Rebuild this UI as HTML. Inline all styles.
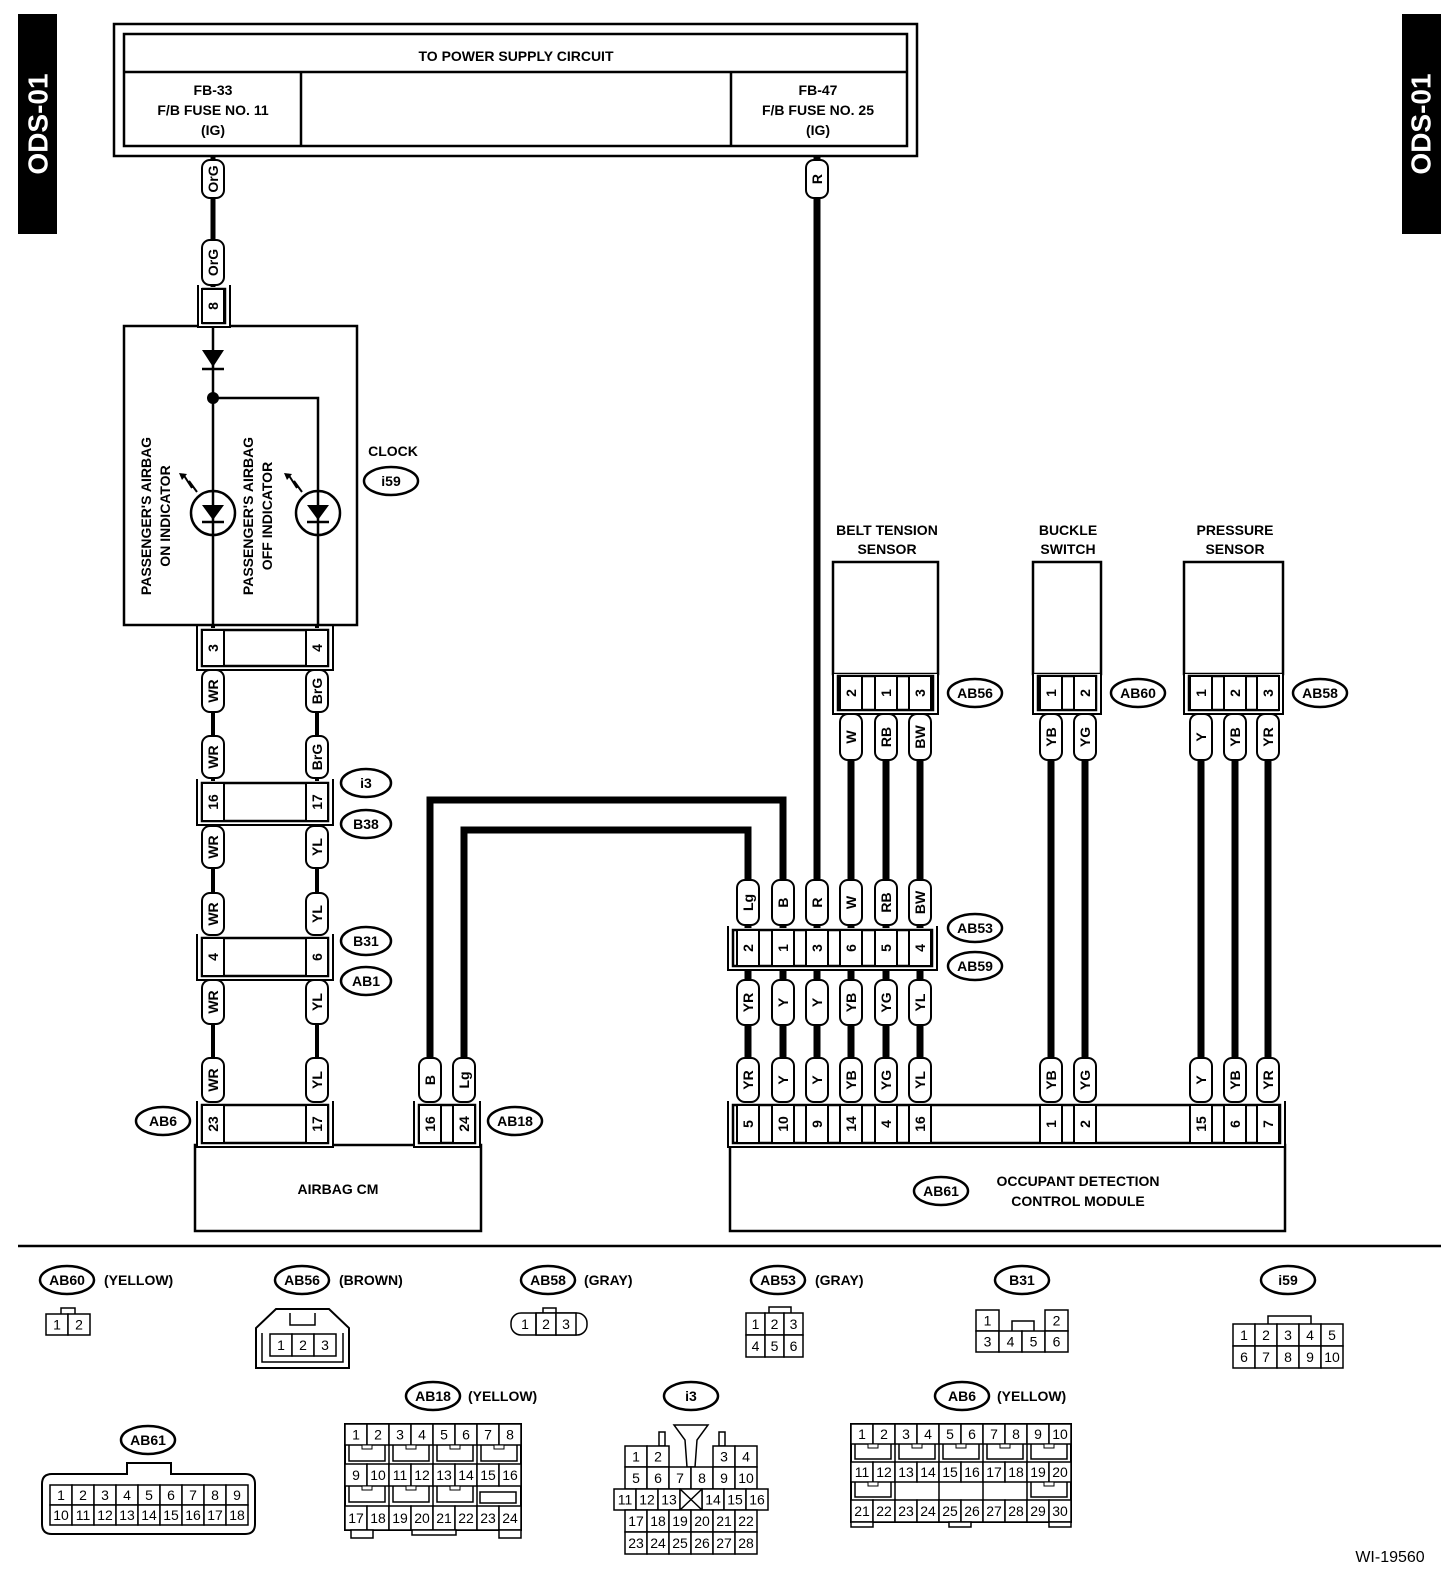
<!DOCTYPE html>
<html><head><meta charset="utf-8"><style>
html,body{margin:0;padding:0;background:#fff}
svg{display:block;font-family:"Liberation Sans",sans-serif}
</style></head><body>
<svg id="s" width="1456" height="1570" viewBox="0 0 1456 1570" xmlns="http://www.w3.org/2000/svg">
<rect x="18" y="14" width="39" height="220" fill="#000"/>
<rect x="1402" y="14" width="39" height="220" fill="#000"/>
<text transform="translate(38,124) rotate(-90)" text-anchor="middle" dominant-baseline="central" fill="#fff" font-size="28" font-weight="bold">ODS-01</text>
<text transform="translate(1421,124) rotate(-90)" text-anchor="middle" dominant-baseline="central" fill="#fff" font-size="28" font-weight="bold">ODS-01</text>
<g fill="none" stroke="#000" stroke-width="2.5">
<rect x="114" y="24" width="803" height="132"/>
<rect x="124" y="34" width="783" height="112"/>
<line x1="124" y1="72" x2="907" y2="72"/>
<line x1="301" y1="72" x2="301" y2="146"/>
<line x1="731" y1="72" x2="731" y2="146"/>
</g>
<g font-size="14" font-weight="bold" text-anchor="middle">
<text x="516" y="61">TO POWER SUPPLY CIRCUIT</text>
<text x="213" y="95">FB-33</text><text x="213" y="115">F/B FUSE NO. 11</text><text x="213" y="135">(IG)</text>
<text x="818" y="95">FB-47</text><text x="818" y="115">F/B FUSE NO. 25</text><text x="818" y="135">(IG)</text>
</g>
<g id="wires" stroke="#000" fill="none"></g>
<g id="fg"></g>
</svg>
<script>
const NS="http://www.w3.org/2000/svg";
const W=document.getElementById('wires'),F=document.getElementById('fg');
function el(p,t,a,txt){const e=document.createElementNS(NS,t);for(const k in a)e.setAttribute(k,a[k]);if(txt!==undefined)e.textContent=txt;p.appendChild(e);return e;}
function line(pts,w){el(W,'polyline',{points:pts.map(p=>p.join(',')).join(' '),'stroke-width':w,fill:'none','stroke-linejoin':'miter'});}
function rtext(x,y,t,fs){el(F,'text',{transform:`translate(${x},${y}) rotate(-90)`,'text-anchor':'middle','dominant-baseline':'central','font-size':fs||14,'font-weight':'bold'},t);}
function pill(x,y1,y2,t){el(F,'rect',{x:x-11,y:y1,width:22,height:y2-y1,rx:8,ry:8,fill:'#fff',stroke:'#000','stroke-width':2});rtext(x,(y1+y2)/2,t);}
function cell(x,y1,y2,t){el(F,'rect',{x:x-11,y:y1,width:22,height:y2-y1,fill:'#fff',stroke:'#000','stroke-width':2});rtext(x,(y1+y2)/2,t);}
function conn(x1,x2,y1,y2,cells){
 el(F,'rect',{x:x1,y:y1-2,width:x2-x1,height:y2-y1+4,fill:'#fff',stroke:'none'});
 el(F,'polyline',{points:`${x1},${y1-4} ${x1},${y2+2} ${x2},${y2+2} ${x2},${y1-4}`,fill:'none',stroke:'#000','stroke-width':2});
 el(F,'rect',{x:x1+5,y:y1,width:x2-x1-10,height:y2-y1-2,fill:'#fff',stroke:'#000','stroke-width':2.5});
 cells.forEach(c=>cell(c[0],y1,y2-2,c[1]));
}
function oval(cx,cy,t,rx){el(F,'ellipse',{cx,cy,rx:rx||27,ry:14,fill:'#fff',stroke:'#000','stroke-width':2.5});el(F,'text',{x:cx,y:cy+5,'text-anchor':'middle','font-size':14,'font-weight':'bold'},t);}
function txt(x,y,t,fs,anc){el(F,'text',{x,y,'text-anchor':anc||'start','font-size':fs||14,'font-weight':'bold'},t);}
function box(x,y,w,h,sw){el(F,'rect',{x,y,width:w,height:h,fill:'#fff',stroke:'#000','stroke-width':sw||2.5});}
function latch(x,y,w,h){el(F,'polyline',{points:`${x},${y} ${x},${y+h} ${x+w},${y+h} ${x+w},${y}`,fill:'none',stroke:'#000','stroke-width':1.5});box(x+w/2-5,y,10,4,1);}

line([[213,156],[213,326]],5);
line([[213,625],[213,1103]],4);line([[317,625],[317,1103]],4);
line([[430,1103],[430,800],[783,800],[783,928]],7);
line([[464,1103],[464,830],[748,830],[748,928]],7);
line([[817,156],[817,928]],7);
[851,886,920].forEach(x=>line([[x,712],[x,928]],7));
[748,783,817,851,886,920].forEach(x=>line([[x,968],[x,1103]],7));
[1051,1085,1201,1235,1268].forEach(x=>line([[x,712],[x,1103]],7));

box(124,326,233,299);
el(F,'line',{x1:213,y1:326,x2:213,y2:625,stroke:'#000','stroke-width':2.5});
el(F,'polyline',{points:'213,398 318,398 318,625',fill:'none',stroke:'#000','stroke-width':2.5});
el(F,'polygon',{points:'202,350 224,350 213,367',fill:'#000'});
el(F,'line',{x1:202,y1:369,x2:224,y2:369,stroke:'#000','stroke-width':2.5});
el(F,'circle',{cx:213,cy:398,r:6,fill:'#000'});
[213,318].forEach(x=>{
 el(F,'circle',{cx:x,cy:513,r:22,fill:'#fff',stroke:'#000','stroke-width':2.5});
 el(F,'line',{x1:x,y1:491,x2:x,y2:535,stroke:'#000','stroke-width':2.5});
 el(F,'polygon',{points:`${x-11},${505} ${x+11},${505} ${x},${520}`,fill:'#000'});
 el(F,'line',{x1:x-11,y1:522,x2:x+11,y2:522,stroke:'#000','stroke-width':2.5});
 el(F,'polyline',{points:`${x-16},${492} ${x-24},${481} ${x-21},${488} ${x-30},${474}`,fill:'none',stroke:'#000','stroke-width':2});
 el(F,'polygon',{points:`${x-34},${473} ${x-26},${474} ${x-31},${480}`,fill:'#000'});
});
rtext(146,516,"PASSENGER'S AIRBAG",14);rtext(165,516,"ON INDICATOR",14);
rtext(248,516,"PASSENGER'S AIRBAG",14);rtext(267,516,"OFF INDICATOR",14);
txt(393,456,"CLOCK",14,'middle');oval(391,481,"i59");

pill(213,160,198,"OrG");pill(213,240,285,"OrG");
conn(198,230,289,325,[[213,"8"]]);
conn(197,333,630,668,[[213,"3"],[317,"4"]]);
pill(213,670,712,"WR");pill(213,736,778,"WR");pill(317,670,712,"BrG");pill(317,736,778,"BrG");
conn(197,333,783,823,[[213,"16"],[317,"17"]]);oval(366,783,"i3",25);oval(366,824,"B38",25);
pill(213,826,868,"WR");pill(213,893,935,"WR");pill(317,826,868,"YL");pill(317,893,935,"YL");
conn(197,333,938,978,[[213,"4"],[317,"6"]]);oval(366,941,"B31",25);oval(366,981,"AB1",25);
pill(213,980,1024,"WR");pill(213,1058,1102,"WR");pill(317,980,1024,"YL");pill(317,1058,1102,"YL");
box(195,1145,286,86);txt(338,1194,"AIRBAG CM",14,'middle');
conn(197,333,1105,1145,[[213,"23"],[317,"17"]]);oval(163,1121,"AB6");
pill(430,1058,1102,"B");pill(464,1058,1102,"Lg");
conn(414,480,1105,1145,[[430,"16"],[464,"24"]]);oval(515,1121,"AB18");
pill(817,160,198,"R");

txt(887,535,"BELT TENSION",14,'middle');txt(887,554,"SENSOR",14,'middle');
txt(1068,535,"BUCKLE",14,'middle');txt(1068,554,"SWITCH",14,'middle');
txt(1235,535,"PRESSURE",14,'middle');txt(1235,554,"SENSOR",14,'middle');
box(833,562,105,112);box(1033,562,68,112);box(1184,562,99,112);
conn(833,938,676,712,[[851,"2"],[886,"1"],[920,"3"]]);oval(975,693,"AB56");
conn(1033,1101,676,712,[[1051,"1"],[1085,"2"]]);oval(1138,693,"AB60");
conn(1184,1283,676,712,[[1201,"1"],[1235,"2"],[1268,"3"]]);oval(1320,693,"AB58");
[[851,"W"],[886,"RB"],[920,"BW"],[1051,"YB"],[1085,"YG"],[1201,"Y"],[1235,"YB"],[1268,"YR"]].forEach(p=>pill(p[0],714,760,p[1]));
[[748,"Lg"],[783,"B"],[817,"R"],[851,"W"],[886,"RB"],[920,"BW"]].forEach(p=>pill(p[0],880,925,p[1]));
conn(728,937,930,968,[[748,"2"],[783,"1"],[817,"3"],[851,"6"],[886,"5"],[920,"4"]]);
oval(975,928,"AB53");oval(975,966,"AB59");
const low=[[748,"YR"],[783,"Y"],[817,"Y"],[851,"YB"],[886,"YG"],[920,"YL"]];
low.forEach(p=>{pill(p[0],980,1025,p[1]);pill(p[0],1058,1102,p[1]);});
[[1051,"YB"],[1085,"YG"],[1201,"Y"],[1235,"YB"],[1268,"YR"]].forEach(p=>pill(p[0],1058,1102,p[1]));
box(730,1145,555,86);
conn(728,1285,1105,1145,[[748,"5"],[783,"10"],[817,"9"],[851,"14"],[886,"4"],[920,"16"],[1051,"1"],[1085,"2"],[1201,"15"],[1235,"6"],[1268,"7"]]);
oval(941,1191,"AB61");txt(1078,1186,"OCCUPANT DETECTION",14,'middle');txt(1078,1206,"CONTROL MODULE",14,'middle');

el(F,'line',{x1:18,y1:1246,x2:1441,y2:1246,stroke:'#000','stroke-width':2.5});

function grid(x,y,cw,ch,labels){labels.forEach((row,r)=>row.forEach((t,c)=>{if(t===null)return;el(F,'rect',{x:x+c*cw,y:y+r*ch,width:cw,height:ch,fill:'#fff',stroke:'#000','stroke-width':1.5});el(F,'text',{x:x+c*cw+cw/2,y:y+r*ch+ch/2+5,'text-anchor':'middle','font-size':14},t);}));}
function rng(a,b){const r=[];for(let i=a;i<=b;i++)r.push(String(i));return r;}
oval(67,1280,"AB60");txt(104,1285,"(YELLOW)");
box(61,1308,14,7,1.5);grid(46,1314,22,21,[["1","2"]]);
oval(302,1280,"AB56");txt(339,1285,"(BROWN)");
el(F,'polygon',{points:'276,1309 329,1309 349,1328 349,1368 256,1368 256,1328',fill:'#fff',stroke:'#000','stroke-width':2});
el(F,'polyline',{points:'262,1333 262,1362 343,1362 343,1333',fill:'none',stroke:'#000','stroke-width':1.5});
el(F,'polyline',{points:'290,1313 290,1325 315,1325 315,1313',fill:'none',stroke:'#000','stroke-width':1.5});
grid(270,1334,22,22,[["1","2","3"]]);
oval(548,1280,"AB58");txt(584,1285,"(GRAY)");
el(F,'rect',{x:511,y:1313,width:76,height:22,rx:10,fill:'#fff',stroke:'#000','stroke-width':1.5});
box(543,1308,13,5,1.5);grid(536,1313,20,22,[["2","3"]]);
el(F,'text',{x:525,y:1329,'text-anchor':'middle','font-size':14},"1");
el(F,'line',{x1:536,y1:1313,x2:536,y2:1335,stroke:'#000','stroke-width':1.5});
oval(778,1280,"AB53");txt(815,1285,"(GRAY)");
box(769,1307,22,7,1.5);grid(746,1313,19,22,[["1","2","3"],["4","5","6"]]);
oval(1022,1280,"B31");
grid(976,1310,23,21,[["1",null,null,"2"],["3","4","5","6"]]);
el(F,'polyline',{points:'1012,1331 1012,1321 1034,1321 1034,1331',fill:'none',stroke:'#000','stroke-width':1.5});
oval(1288,1280,"i59");
el(F,'polyline',{points:'1268,1324 1268,1316 1311,1316 1311,1324',fill:'none',stroke:'#000','stroke-width':1.5});
grid(1233,1324,22,22,[rng(1,5),rng(6,10)]);
oval(148,1440,"AB61");
el(F,'path',{d:'M52,1474 H127 V1463 H171 V1474 H245 Q255,1474 255,1484 V1524 Q255,1534 245,1534 H52 Q42,1534 42,1524 V1484 Q42,1474 52,1474 Z',fill:'#fff',stroke:'#000','stroke-width':2});
grid(50,1485,22,20,[rng(1,9),rng(10,18)]);
oval(433,1396,"AB18");txt(468,1401,"(YELLOW)");
box(345,1424,176,106,2);
grid(345,1424,22,21,[rng(1,8)]);grid(345,1464,22,22,[rng(9,16)]);grid(345,1506,22,24,[rng(17,24)]);
for(let i=0;i<4;i++){const x=345+i*44;el(F,'line',{x1:x+44,y1:1445,x2:x+44,y2:1464,stroke:'#000','stroke-width':1.5});latch(x+4,1445,36,16);if(i<3){el(F,'line',{x1:x+44,y1:1486,x2:x+44,y2:1506,stroke:'#000','stroke-width':1.5});latch(x+4,1486,36,16);}}
box(480,1492,36,11,1.5);
box(351,1530,22,8,1.5);box(412,1530,44,5,1.5);box(499,1530,22,8,1.5);
oval(691,1396,"i3");
el(F,'polygon',{points:'674,1425 708,1425 697,1440 695,1467 687,1467 685,1440',fill:'#fff',stroke:'#000','stroke-width':1.5});
box(659,1432,6,14,1.5);box(719,1432,6,14,1.5);
grid(625,1446,22,21,[["1","2"]]);grid(713,1446,22,21,[["3","4"]]);
grid(625,1467,22,22,[rng(5,10)]);
grid(614,1489,22,21,[["11","12","13",null,"14","15","16"]]);
box(680,1489,22,21,1.5);el(F,'path',{d:'M680,1489 L702,1510 M702,1489 L680,1510',stroke:'#000','stroke-width':1.5});
grid(625,1510,22,22,[rng(17,22),rng(23,28)]);
oval(962,1396,"AB6");txt(997,1401,"(YELLOW)");
box(851,1424,220,98,2);
grid(851,1424,22,20,[rng(1,10)]);grid(851,1462,22,20,[rng(11,20)]);grid(851,1500,22,22,[rng(21,30)]);
for(let i=0;i<5;i++){const x=851+i*44;el(F,'line',{x1:x+44,y1:1444,x2:x+44,y2:1462,stroke:'#000','stroke-width':1.5});latch(x+4,1444,36,15);}
for(let i=1;i<5;i++){el(F,'line',{x1:851+i*44,y1:1482,x2:851+i*44,y2:1500,stroke:'#000','stroke-width':1.5});}
latch(855,1482,36,15);latch(1031,1482,36,15);
box(851,1522,22,5,1.5);box(949,1522,22,5,1.5);box(1049,1522,22,5,1.5);
el(F,'text',{x:1390,y:1562,'text-anchor':'middle','font-size':16},"WI-19560");
</script>
</body></html>
